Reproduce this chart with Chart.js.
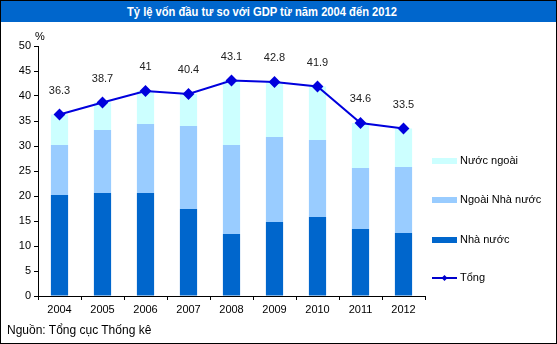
<!DOCTYPE html>
<html>
<head>
<meta charset="utf-8">
<script src="https://cdn.jsdelivr.net/npm/chart.js@4"></script>
<style>
  body { margin: 0; background: #fff; }
  #box { position: relative; width: 555px; height: 342px; border: 1px solid #000; overflow: hidden; }
  #title {
    position: absolute; left: 0; top: 0; width: 555px; height: 21px;
    background: #0066cc; color: #fff; text-align: center; padding-right: 34px; box-sizing: border-box;
    font: bold 13px "Liberation Sans", Arial, sans-serif; line-height: 21px;
  }
  #title span { display: inline-block; transform: scaleX(0.86); }
  #src { position: absolute; left: 6px; top: 322px; font: 12px "Liberation Sans", Arial, sans-serif; color: #000; }
  canvas { position: absolute; left: -1px; top: -1px; }
</style>
</head>
<body>
<div id="box">
  <canvas id="chart" width="557" height="344"></canvas>
  <div id="title"><span>Tỷ lệ vốn đầu tư so với GDP từ năm 2004 đến 2012</span></div>
  <div id="src">Nguồn: Tổng cục Thống kê</div>
</div>
<script>
// Số liệu (%)
const years = ["2004", "2005", "2006", "2007", "2008", "2009", "2010", "2011", "2012"];
const nhaNuoc = [20.2, 20.6, 20.6, 17.4, 12.4, 14.8, 15.8, 13.4, 12.6];
const ngoaiNhaNuoc = [10.0, 12.6, 13.8, 16.6, 17.8, 17.0, 15.4, 12.2, 13.2];
const nuocNgoai = [6.1, 5.5, 6.6, 6.4, 12.9, 11.0, 10.7, 9.0, 7.7];
const tong = [36.3, 38.7, 41, 40.4, 43.1, 42.8, 41.9, 34.6, 33.5];
const legendNames = ["Nước ngoài", "Ngoài Nhà nước", "Nhà nước", "Tổng"];

const FONT = "Liberation Sans";

// Nhãn giá trị trên đường Tổng
const labelPlugin = {
  id: "labels",
  afterDatasetsDraw(chart) {
    const ctx = chart.ctx;
    const meta = chart.getDatasetMeta(3);
    ctx.save();
    ctx.font = "11px " + FONT;
    ctx.fillStyle = "#222";
    ctx.textAlign = "center";
    ctx.textBaseline = "middle";
    meta.data.forEach((pt, i) => {
      ctx.fillText(String(tong[i]), pt.x, pt.y - 24);
    });
    // ký hiệu %
    ctx.textAlign = "left";
    ctx.fillStyle = "#000";
    ctx.fillText("%", 35, 37);
    ctx.restore();
  }
};

// Chú thích bên phải
const legendPlugin = {
  id: "sideLegend",
  afterDraw(chart) {
    const ctx = chart.ctx;
    const rows = [161, 200, 240, 278];
    const colors = ["#ccffff", "#99ccff", "#0066cc"];
    ctx.save();
    ctx.font = "11px " + FONT;
    ctx.textBaseline = "middle";
    ctx.fillStyle = "#000";
    rows.forEach((y, i) => {
      if (i < 3) {
        ctx.fillStyle = colors[i];
        ctx.fillRect(432, y - 3, 25, 6);
      } else {
        ctx.strokeStyle = "#0000cc";
        ctx.lineWidth = 2;
        ctx.beginPath();
        ctx.moveTo(432, y);
        ctx.lineTo(457, y);
        ctx.stroke();
        ctx.fillStyle = "#0000cc";
        ctx.beginPath();
        ctx.moveTo(444.5, y - 3);
        ctx.lineTo(447.5, y);
        ctx.lineTo(444.5, y + 3);
        ctx.lineTo(441.5, y);
        ctx.closePath();
        ctx.fill();
      }
      ctx.fillStyle = "#000";
      ctx.fillText(legendNames[i], 460, y);
    });
    ctx.restore();
  }
};

new Chart(document.getElementById("chart"), {
  data: {
    labels: years,
    datasets: [
      { type: "bar", label: "Nhà nước", data: nhaNuoc, backgroundColor: "#0066cc", stack: "s", order: 2 },
      { type: "bar", label: "Ngoài Nhà nước", data: ngoaiNhaNuoc, backgroundColor: "#99ccff", stack: "s", order: 2 },
      { type: "bar", label: "Nước ngoài", data: nuocNgoai, backgroundColor: "#ccffff", stack: "s", order: 2 },
      {
        type: "line", label: "Tổng", data: tong, borderColor: "#0000dd", backgroundColor: "#0000dd",
        borderWidth: 2, pointStyle: "rectRot", pointRadius: 4.5, pointHoverRadius: 4.5, tension: 0, order: 1
      }
    ]
  },
  options: {
    responsive: false,
    animation: false,
    events: [],
    barPercentage: 0.4,
    categoryPercentage: 1,
    layout: { padding: { top: 46, right: 132, left: 0, bottom: 0 } },
    plugins: { legend: { display: false }, tooltip: { enabled: false } },
    scales: {
      x: {
        stacked: true,
        offset: true,
        grid: { display: true, offset: true, drawOnChartArea: false, tickLength: 4, color: "#000" },
        border: { color: "#000" },
        ticks: { color: "#000", font: { family: FONT, size: 11 }, padding: 3, maxRotation: 0 },
        afterFit: (s) => { s.height = 48; }
      },
      y: {
        stacked: true,
        min: 0,
        max: 50,
        grid: { display: true, drawOnChartArea: false, tickLength: 4, color: "#000" },
        border: { color: "#000" },
        ticks: { stepSize: 5, color: "#000", font: { family: FONT, size: 11 }, padding: 3 },
        afterFit: (s) => { s.width = 38; }
      }
    }
  },
  plugins: [labelPlugin, legendPlugin]
});
</script>
</body>
</html>
